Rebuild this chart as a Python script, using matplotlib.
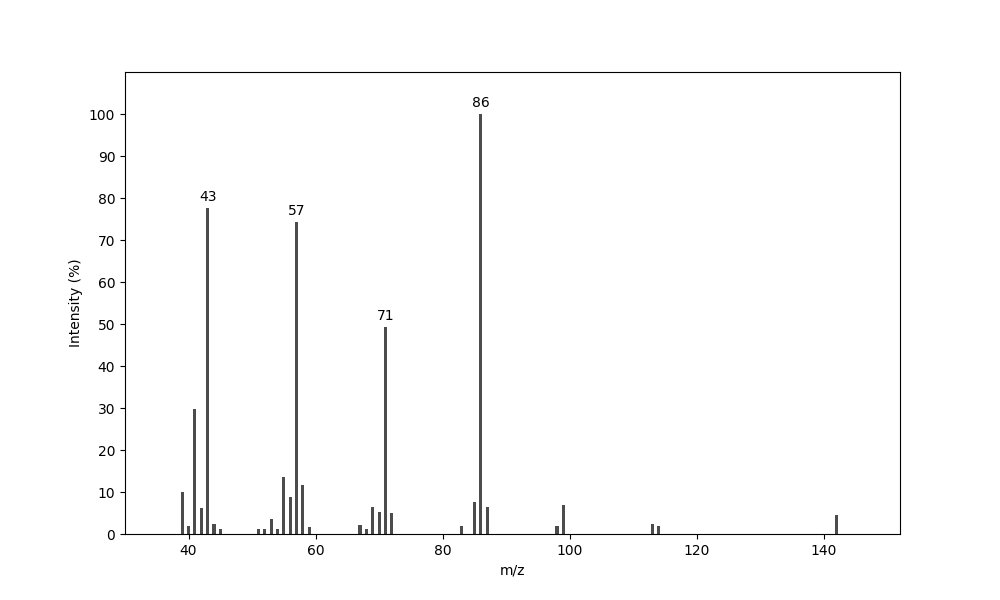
import matplotlib
matplotlib.use("Agg")
import matplotlib.pyplot as plt
import numpy as np

# m/z values and relative intensities
mz = [39, 40, 41, 42, 43, 44, 45,
      51, 52, 53, 54, 55, 56, 57, 58, 59,
      67, 68, 69, 70, 71, 72,
      83, 85, 86, 87,
      98, 99, 113, 114, 142]
intensity = [10.0, 2.0, 29.8, 6.3, 77.6, 2.4, 1.2,
             1.2, 1.2, 3.6, 1.2, 13.6, 8.8, 74.3, 11.7, 1.7,
             2.1, 1.2, 6.4, 5.2, 49.3, 5.0,
             1.9, 7.6, 100.0, 6.4,
             1.9, 6.9, 2.4, 1.9, 4.5]
labelled = [43, 57, 71, 86]

fig, ax = plt.subplots(figsize=(10, 6), dpi=100)
ax.bar(mz, intensity, width=0.5, color="black", alpha=0.7)

for m, v in zip(mz, intensity):
    if m in labelled:
        ax.text(m, v + 1, str(m), ha="center", va="bottom", fontsize=10)

ax.set_xlim(30, max(mz) + 10)
ax.set_ylim(0, 110)
ax.set_yticks(np.arange(0, 101, 10))
ax.set_xlabel("m/z")
ax.set_ylabel("Intensity (%)")

fig.savefig("out.png")
